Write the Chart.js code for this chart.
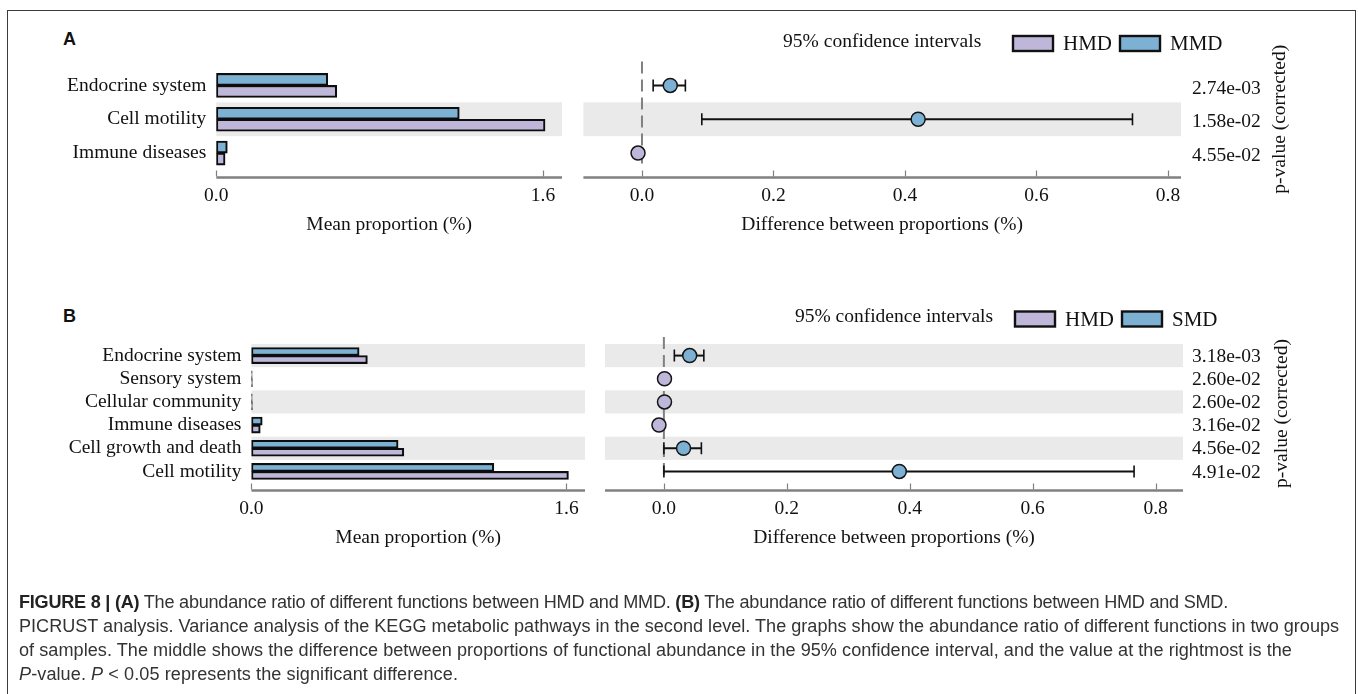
<!DOCTYPE html>
<html>
<head>
<meta charset="utf-8">
<title>FIGURE 8 – KEGG level-2 pathway comparison</title>
<script src="https://cdn.jsdelivr.net/npm/chart.js@4.4.1/dist/chart.umd.min.js"></script>
<style>
  html, body { margin: 0; padding: 0; background: #fff; }
  body { width: 1358px; height: 694px; position: relative; overflow: hidden; }
  canvas { position: absolute; left: 0; top: 0; }
  #frame { position: absolute; left: 7px; top: 10px; width: 1347px; height: 700px;
           border: 1px solid #3c3c3c; border-bottom: none; }
  .panel { position: absolute; font: bold 18px "Liberation Sans", Arial, sans-serif;
           line-height: 18px; color: #111; }
  #caption { position: absolute; left: 19px; top: 590px;
             font-family: "Liberation Sans Narrow", "Liberation Sans", Arial, sans-serif;
             font-size: 16.5px; line-height: 24px; color: #333; white-space: nowrap; }
  #caption .cl { display: block; height: 24px; }
  #caption .cl > span { display: inline-block; }
  #caption b { color: #222; }
</style>
</head>
<body>
<div id="frame"></div>
<div class="panel" style="left:63px; top:30px;">A</div>
<div class="panel" style="left:63px; top:307px;">B</div>

<canvas id="meanA" width="1358" height="694"></canvas>
<canvas id="diffA" width="1358" height="694"></canvas>
<canvas id="meanB" width="1358" height="694"></canvas>
<canvas id="diffB" width="1358" height="694"></canvas>

<div id="caption">
  <div class="cl" data-w="1209"><span><b>FIGURE 8 | (A)</b> The abundance ratio of different functions between HMD and MMD. <b>(B)</b> The abundance ratio of different functions between HMD and SMD.</span></div>
  <div class="cl" data-w="1320" id="keyLine"><span>PICRUST analysis. Variance analysis of the KEGG metabolic pathways in the second level. The graphs show the abundance ratio of different functions in two groups</span></div>
  <div class="cl" data-w="1273"><span>of samples. The middle shows the difference between proportions of functional abundance in the 95% confidence interval, and the value at the rightmost is the</span></div>
  <div class="cl" data-w="439"><span><i>P</i>-value. <i>P</i> &lt; 0.05 represents the significant difference.</span></div>
</div>

<script>
// ---------------- data ----------------
const groupColors = { HMD: '#BEB7D9', MMD: '#7DB1D3', SMD: '#7DB1D3' };

// Panel A: HMD vs MMD
const catsA      = ['Endocrine system', 'Cell motility', 'Immune diseases'];
const hmdA       = [0.590, 1.610, 0.043];
const mmdA       = [0.546, 1.190, 0.054];
const diffA      = [0.043, 0.420, -0.006];
const ciLowA     = [0.017, 0.091, -0.010];
const ciHighA    = [0.066, 0.746, -0.002];
const pointGroupA = ['MMD', 'MMD', 'HMD'];
const pValuesA   = ['2.74e-03', '1.58e-02', '4.55e-02'];

// Panel B: HMD vs SMD
const catsB      = ['Endocrine system', 'Sensory system', 'Cellular community',
                    'Immune diseases', 'Cell growth and death', 'Cell motility'];
const hmdB       = [0.589, 0.005, 0.005, 0.045, 0.774, 1.610];
const smdB       = [0.547, 0.004, 0.004, 0.055, 0.745, 1.231];
const diffB      = [0.042, 0.001, 0.001, -0.008, 0.032, 0.383];
const ciLowB     = [0.017, -0.002, -0.002, -0.012, 0.000, 0.000];
const ciHighB    = [0.065, 0.004, 0.004, -0.004, 0.061, 0.765];
const pointGroupB = ['SMD', 'HMD', 'HMD', 'HMD', 'SMD', 'SMD'];
const pValuesB   = ['3.18e-03', '2.60e-02', '2.60e-02', '3.16e-02', '4.56e-02', '4.91e-02'];

// axis tick values
const meanTicks = [0, 1.6];
const diffTicks = [0, 0.2, 0.4, 0.6, 0.8];

// ---------------- page geometry ----------------
const PAGE_W = 1358, PAGE_H = 694;
const geoA = {
  meanArea: { left: 216.3, right: 562, top: 68.5, bottom: 170 },
  diffArea: { left: 583.4, right: 1181, top: 68.5, bottom: 170 },
  meanMax: 1.693, diffMin: -0.0891, diffMax: 0.8198,
  barThickness: 12, tickPad: 14, pPad: 11, pOffset: 3
};
const geoB = {
  meanArea: { left: 251.4, right: 585, top: 344, bottom: 483 },
  diffArea: { left: 605, right: 1183, top: 344, bottom: 483 },
  meanMax: 1.694, diffMin: -0.0958, diffMax: 0.8446,
  barThickness: 8, tickPad: 14, pPad: 9, pOffset: 1
};
const Y_AXIS_W = 200, P_AXIS_W = 150, X_AXIS_H = 80;

Chart.defaults.font.family = '"Liberation Serif", "Times New Roman", serif';
Chart.defaults.font.size = 19.5;
Chart.defaults.color = '#111';

// alternate grey row bands, counted from the bottom row
const rowBands = {
  id: 'rowBands',
  beforeDatasetsDraw(chart) {
    const y = chart.scales.y, ctx = chart.ctx, { left, right } = chart.chartArea;
    const n = y.getLabels().length;
    const step = y.getPixelForValue(1) - y.getPixelForValue(0);
    ctx.save();
    ctx.fillStyle = '#EAEAEA';
    for (let i = 0; i < n; i++) {
      if ((n - 1 - i) % 2 === 1) {
        const c = y.getPixelForValue(i);
        ctx.fillRect(left, c - step / 2, right - left, step);
      }
    }
    ctx.restore();
  }
};

// grey baseline with upward tick marks, set a little below the plot area
const baseAxis = {
  id: 'baseAxis',
  afterDraw(chart, args, opts) {
    const x = chart.scales.x, ctx = chart.ctx, { left, right, bottom } = chart.chartArea;
    const yy = bottom + opts.gap;
    ctx.save();
    ctx.strokeStyle = '#808080';
    ctx.lineWidth = 2.5;
    ctx.beginPath(); ctx.moveTo(left, yy); ctx.lineTo(right, yy); ctx.stroke();
    ctx.lineWidth = 1.2;
    x.ticks.forEach(t => {
      const px = Math.round(x.getPixelForValue(t.value)) + 0.5;
      ctx.beginPath(); ctx.moveTo(px, yy - 1); ctx.lineTo(px, yy - 7); ctx.stroke();
    });
    ctx.restore();
  }
};

// zero line and 95% confidence interval whiskers under the points
const ciLayer = {
  id: 'ciLayer',
  beforeDatasetsDraw(chart, args, opts) {
    const x = chart.scales.x, y = chart.scales.y, ctx = chart.ctx, { top, bottom } = chart.chartArea;
    ctx.save();
    const x0 = x.getPixelForValue(0);
    ctx.strokeStyle = '#808080';
    ctx.lineWidth = 2;
    ctx.setLineDash([12, 6]);
    ctx.beginPath(); ctx.moveTo(x0, top - 7); ctx.lineTo(x0, bottom - 3); ctx.stroke();
    ctx.setLineDash([]);
    ctx.strokeStyle = '#111';
    opts.low.forEach((lo, i) => {
      const hi = opts.high[i];
      const xl = x.getPixelForValue(lo), xh = x.getPixelForValue(hi), yc = y.getPixelForValue(i);
      ctx.lineWidth = 2;
      ctx.beginPath(); ctx.moveTo(xl, yc); ctx.lineTo(xh, yc); ctx.stroke();
      ctx.lineWidth = 1.6;
      ctx.beginPath();
      ctx.moveTo(xl, yc - 6); ctx.lineTo(xl, yc + 6);
      ctx.moveTo(xh, yc - 6); ctx.lineTo(xh, yc + 6);
      ctx.stroke();
    });
    ctx.restore();
  },
  afterDraw(chart, args, opts) {
    const ctx = chart.ctx, { left, right, top, bottom } = chart.chartArea;
    ctx.save();
    ctx.fillStyle = '#111';
    ctx.textBaseline = 'middle';
    // heading over the interval plot
    ctx.font = '19.5px "Liberation Serif", serif';
    ctx.textAlign = 'center';
    ctx.fillText('95% confidence intervals', (left + right) / 2, top - 27);
    // group legend
    ctx.font = '21px "Liberation Serif", serif';
    ctx.textAlign = 'left';
    let bx = right - 168;
    const by = top - 25;
    opts.legend.forEach(g => {
      ctx.fillStyle = groupColors[g];
      ctx.fillRect(bx, by - 7.5, 40, 15);
      ctx.strokeStyle = '#111';
      ctx.lineWidth = 2.4;
      ctx.strokeRect(bx, by - 7.5, 40, 15);
      ctx.fillStyle = '#111';
      ctx.fillText(g, bx + 50, by + 1);
      bx += 50 + ctx.measureText(g).width + 8;
    });
    // right-hand axis caption
    ctx.font = '19.5px "Liberation Serif", serif';
    ctx.textAlign = 'center';
    ctx.translate(right + 99, (top + bottom) / 2);
    ctx.rotate(-Math.PI / 2);
    ctx.fillText('p-value (corrected)', 0, 0);
    ctx.restore();
  }
};

function meanChart(id, cats, series, geo) {
  const a = geo.meanArea;
  return new Chart(document.getElementById(id), {
    type: 'bar',
    data: {
      labels: cats,
      datasets: series.map(s => ({
        label: s.label, data: s.data,
        backgroundColor: groupColors[s.label], borderColor: '#0d0d0d',
        borderWidth: 2.1, borderSkipped: false, barThickness: geo.barThickness
      }))
    },
    options: {
      indexAxis: 'y', responsive: false, animation: false, events: [],
      layout: { padding: { left: a.left - Y_AXIS_W, right: PAGE_W - a.right,
                           top: a.top, bottom: PAGE_H - a.bottom - X_AXIS_H } },
      plugins: { legend: { display: false }, tooltip: { enabled: false }, baseAxis: { gap: 7.5 } },
      scales: {
        x: {
          type: 'linear', min: 0, max: geo.meanMax,
          grid: { display: false, drawTicks: false }, border: { display: false },
          afterBuildTicks: s => { s.ticks = meanTicks.map(v => ({ value: v })); },
          ticks: { padding: geo.tickPad, maxRotation: 0, autoSkip: false, callback: v => Number(v).toFixed(1) },
          title: { display: true, text: 'Mean proportion (%)', padding: { top: 0, bottom: 13 } },
          afterFit: s => { s.height = X_AXIS_H; }
        },
        y: {
          type: 'category',
          grid: { display: false, drawTicks: false }, border: { display: false },
          ticks: { padding: 10, autoSkip: false },
          afterFit: s => { s.width = Y_AXIS_W; }
        }
      }
    },
    plugins: [rowBands, baseAxis]
  });
}

function diffChart(id, cats, diffs, lows, highs, groups, pvals, legend, geo) {
  const a = geo.diffArea;
  return new Chart(document.getElementById(id), {
    type: 'scatter',
    data: {
      datasets: [{
        data: diffs.map((v, i) => ({ x: v, y: cats[i] })),
        pointRadius: 7, pointBorderWidth: 1.5, pointBorderColor: '#141414',
        pointBackgroundColor: groups.map(g => groupColors[g])
      }]
    },
    options: {
      responsive: false, animation: false, events: [],
      layout: { padding: { left: a.left, right: PAGE_W - a.right - P_AXIS_W,
                           top: a.top, bottom: PAGE_H - a.bottom - X_AXIS_H } },
      plugins: {
        legend: { display: false }, tooltip: { enabled: false },
        baseAxis: { gap: 7.5 },
        ciLayer: { low: lows, high: highs, legend: legend }
      },
      scales: {
        x: {
          type: 'linear', min: geo.diffMin, max: geo.diffMax,
          grid: { display: false, drawTicks: false }, border: { display: false },
          afterBuildTicks: s => { s.ticks = diffTicks.map(v => ({ value: v })); },
          ticks: { padding: geo.tickPad, maxRotation: 0, autoSkip: false, callback: v => Number(v).toFixed(1) },
          title: { display: true, text: 'Difference between proportions (%)', padding: { top: 0, bottom: 13 } },
          afterFit: s => { s.height = X_AXIS_H; }
        },
        y: { type: 'category', labels: cats, offset: true, display: false },
        y2: {
          type: 'category', labels: pvals, offset: true, position: 'right',
          grid: { display: false, drawTicks: false }, border: { display: false },
          ticks: { padding: geo.pPad, labelOffset: geo.pOffset, autoSkip: false },
          afterFit: s => { s.width = P_AXIS_W; }
        }
      }
    },
    plugins: [rowBands, ciLayer, baseAxis]
  });
}

meanChart('meanA', catsA, [{ label: 'MMD', data: mmdA }, { label: 'HMD', data: hmdA }], geoA);
diffChart('diffA', catsA, diffA, ciLowA, ciHighA, pointGroupA, pValuesA, ['HMD', 'MMD'], geoA);
meanChart('meanB', catsB, [{ label: 'SMD', data: smdB }, { label: 'HMD', data: hmdB }], geoB);
diffChart('diffB', catsB, diffB, ciLowB, ciHighB, pointGroupB, pValuesB, ['HMD', 'SMD'], geoB);

// caption: size the type so the longest line fills the column, then even out the others
(function fitCaption() {
  const cap = document.getElementById('caption');
  const key = document.querySelector('#keyLine > span');
  const base = parseFloat(getComputedStyle(cap).fontSize);
  const kw = key.getBoundingClientRect().width;
  if (kw > 0) {
    const size = Math.min(20, base * 1320 / kw);
    cap.style.fontSize = size.toFixed(2) + 'px';
  }
  document.querySelectorAll('#caption .cl').forEach(line => {
    const span = line.firstElementChild;
    const target = Number(line.dataset.w);
    const natural = span.getBoundingClientRect().width;
    const chars = span.textContent.length;
    if (natural > 0 && chars > 1) {
      span.style.letterSpacing = ((target - natural) / chars).toFixed(3) + 'px';
    }
  });
})();
</script>
</body>
</html>
